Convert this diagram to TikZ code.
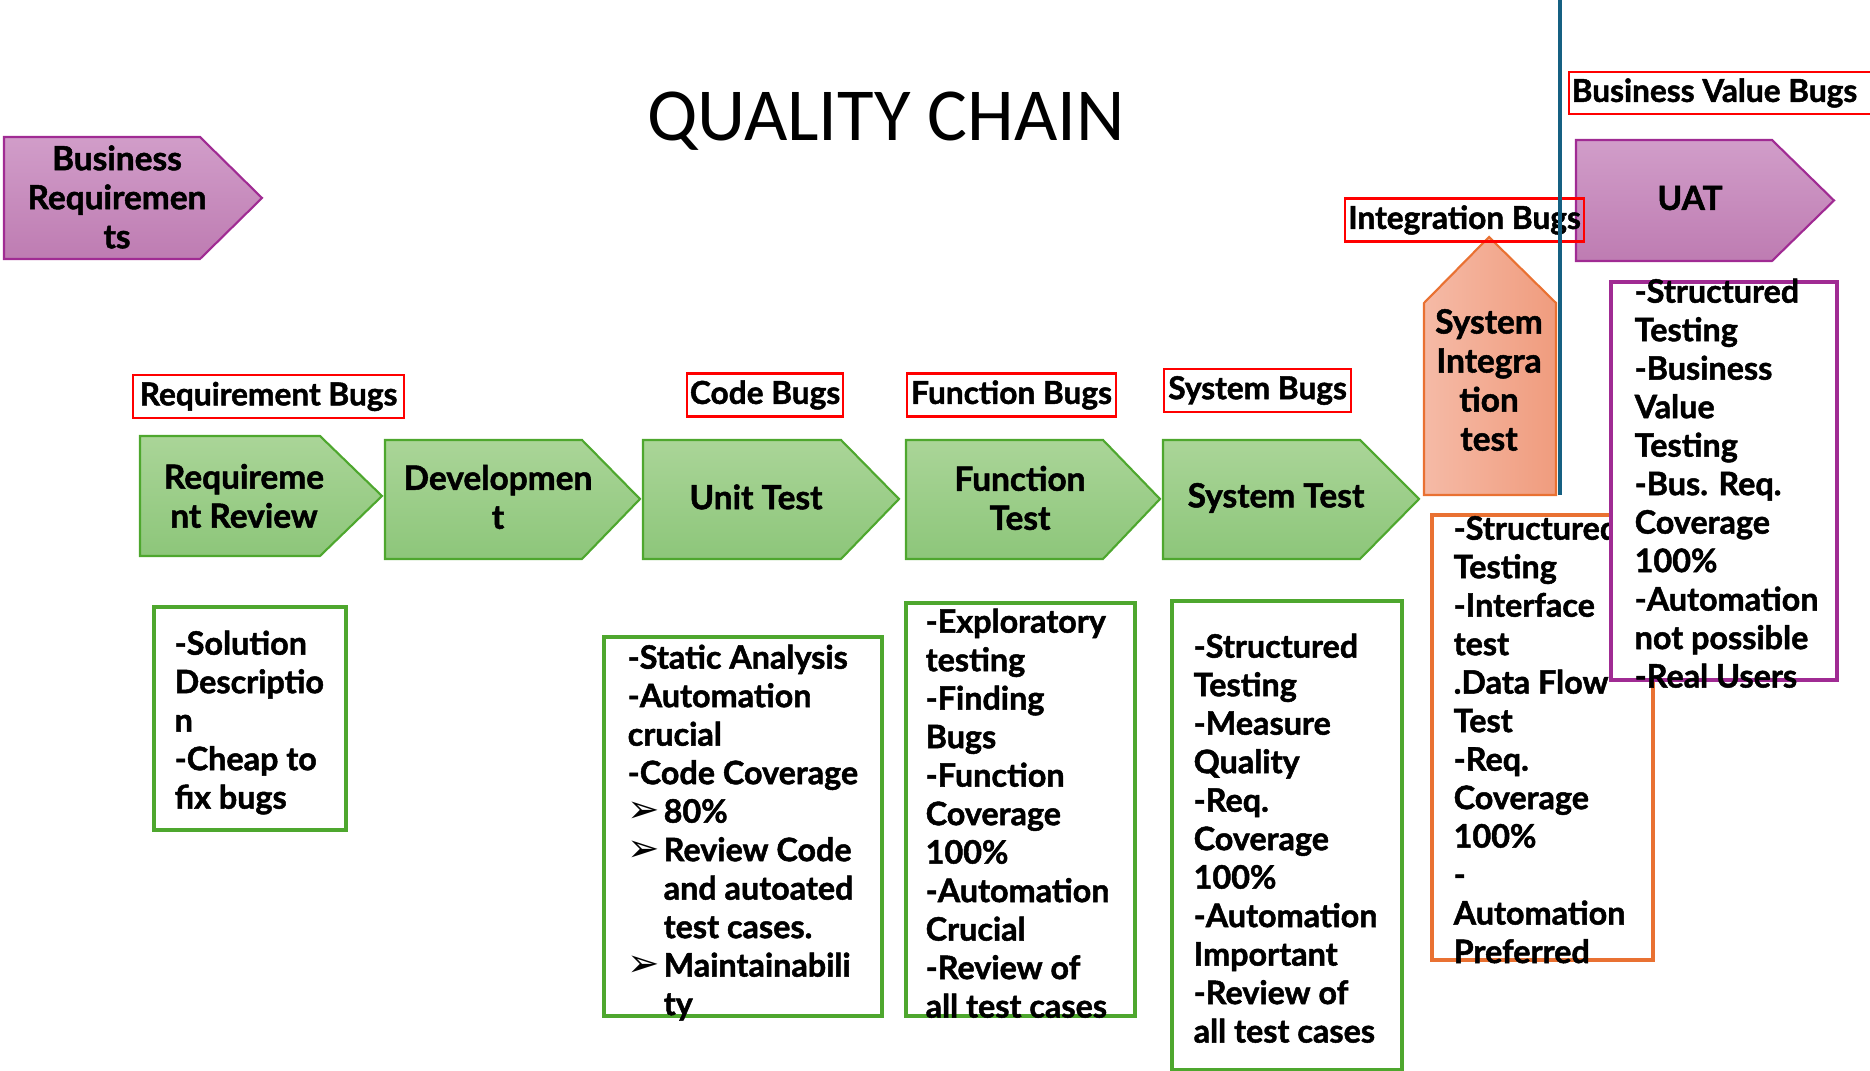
\documentclass[tikz,border=0pt]{standalone}
\usepackage{fontspec}
\setmainfont{Lato}[BoldFeatures={FakeBold=1.5}]
\newfontfamily\titlefont{Carlito}
\newfontfamily\symfont{DejaVu Sans}
\usetikzlibrary{positioning}

\definecolor{greenline}{RGB}{78,167,46}
\definecolor{greentop}{RGB}{170,213,152}
\definecolor{greenbot}{RGB}{141,198,122}
\definecolor{purpleline}{RGB}{160,43,147}
\definecolor{purpletop}{RGB}{209,157,201}
\definecolor{purplebot}{RGB}{190,124,178}
\definecolor{orangeline}{RGB}{233,113,50}
\definecolor{orangeleft}{RGB}{245,186,166}
\definecolor{orangeright}{RGB}{240,156,126}
\definecolor{bugred}{RGB}{255,0,0}
\definecolor{divider}{RGB}{21,96,130}

\newcommand{\arrowbullet}{\makebox[0.36cm][l]{\symfont\fontsize{11}{11}\selectfont ➢}}

\tikzset{
  stage/.style={draw=greenline, line width=0.6pt, top color=greentop, bottom color=greenbot},
  uatstage/.style={draw=purpleline, line width=0.6pt, top color=purpletop, bottom color=purplebot},
  sitstage/.style={draw=orangeline, line width=0.6pt, left color=orangeleft, right color=orangeright},
  stagetext/.style={font=\bfseries\fontsize{9.5}{11.1}\selectfont, align=center, inner sep=0pt},
  notebox/.style={line width=1.1pt},
  notetext/.style={font=\bfseries\fontsize{9.2}{10.95}\selectfont, align=left, anchor=north west, inner sep=0pt},
  bugtext/.style={font=\bfseries\fontsize{9}{10}\selectfont, inner xsep=0.02cm, inner ysep=0pt, minimum height=0.43cm},
  bugbox/.style={bugtext, draw=bugred, line width=0.6pt, anchor=west},
}

\begin{document}
\begin{tikzpicture}
    \useasboundingbox (0,0) rectangle (18.70,10.71);

    % Title
    \node[font=\titlefont\fontsize{21.3}{24}\selectfont, anchor=base] (title) at (8.86,9.30) {QUALITY CHAIN};

    % Business requirements
    \draw[uatstage] (0.04,9.34) -- (2.00,9.34) -- (2.62,8.73) -- (2.00,8.12) -- (0.04,8.12) -- cycle;
    \node[stagetext] (busreq) at (1.17,8.74) {Business\\Requiremen\\ts};

    % Draw the stages
    \draw[stage] (1.40,6.35) -- (3.20,6.35) -- (3.82,5.75) -- (3.20,5.15) -- (1.40,5.15) -- cycle;
    \node[stagetext] (reqreview) at (2.44,5.75) {Requireme\\nt Review};
    \draw[stage] (3.85,6.31) -- (5.82,6.31) -- (6.40,5.72) -- (5.82,5.12) -- (3.85,5.12) -- cycle;
    \node[stagetext] (dev) at (4.98,5.74) {Developmen\\t};
    \draw[stage] (6.43,6.31) -- (8.41,6.31) -- (8.99,5.72) -- (8.41,5.12) -- (6.43,5.12) -- cycle;
    \node[stagetext] (unittest) at (7.56,5.74) {Unit Test};
    \draw[stage] (9.06,6.31) -- (11.03,6.31) -- (11.60,5.72) -- (11.03,5.12) -- (9.06,5.12) -- cycle;
    \node[stagetext] (functest) at (10.20,5.73) {Function\\Test};
    \draw[stage] (11.63,6.31) -- (13.60,6.31) -- (14.19,5.72) -- (13.60,5.12) -- (11.63,5.12) -- cycle;
    \node[stagetext] (systest) at (12.76,5.73) {System Test};

    % Notes under the stages
    \draw[notebox, greenline] (1.54,4.64) rectangle (3.46,2.41);
    \node[notetext] (reqnotes) at (1.74,4.41) {-Solution\\Descriptio\\n\\-Cheap to\\fix bugs};
    \draw[notebox, greenline] (6.04,4.34) rectangle (8.82,0.55);
    \node[notetext] (unitnotes) at (6.27,4.27) {-Static Analysis\\-Automation\\crucial\\-Code Coverage\\
      \arrowbullet 80\%\\\arrowbullet Review Code\\
      \hspace*{0.36cm}and autoated\\\hspace*{0.36cm}test cases.\\
      \arrowbullet Maintainabili\\\hspace*{0.36cm}ty};
    \draw[notebox, greenline] (9.06,4.68) rectangle (11.35,0.55);
    \node[notetext] (funcnotes) at (9.25,4.63) {-Exploratory\\testing\\-Finding\\Bugs\\-Function\\Coverage\\100\%\\-Automation\\Crucial\\-Review of\\all test cases};
    \draw[notebox, greenline] (11.72,4.70) rectangle (14.02,0.01);
    \node[notetext] (sysnotes) at (11.93,4.38) {-Structured\\Testing\\-Measure\\Quality\\-Req.\\Coverage\\100\%\\-Automation\\Important\\-Review of\\all test cases};
    \draw[notebox, orangeline] (14.32,5.56) rectangle (16.53,1.11);
    \node[notetext] (sitnotes) at (14.53,5.56) {-Structured\\Testing\\-Interface\\test\\.Data Flow\\Test\\-Req.\\Coverage\\100\%\\-\\Automation\\Preferred};

    % UAT and system integration
    \draw[uatstage] (15.76,9.31) -- (17.72,9.31) -- (18.34,8.705) -- (17.72,8.10) -- (15.76,8.10) -- cycle;
    \node[stagetext] (uat) at (16.90,8.73) {UAT};
    \draw[sitstage] (14.24,5.76) -- (14.24,7.68) -- (14.89,8.34) -- (15.56,7.68) -- (15.56,5.76) -- cycle;
    \node[stagetext] (sit) at (14.89,6.91) {System\\Integra\\tion\\test};

    % Bug labels
    \node[bugbox, minimum width=2.71cm] (reqbugs) at (1.32,6.745) {Requirement Bugs};
    \node[bugbox, minimum width=1.56cm] (codebugs) at (6.86,6.76) {Code Bugs};
    \node[bugbox, minimum width=2.09cm] (funcbugs) at (9.06,6.76) {Function Bugs};
    \node[bugbox, minimum width=1.87cm] (sysbugs) at (11.63,6.805) {System Bugs};
    \node[bugbox, minimum width=2.39cm] (intbugs) at (13.44,8.51) {Integration Bugs};
    \draw[bugred, line width=0.6pt] (18.70,9.99) -- (15.69,9.99) -- (15.69,9.57) -- (18.70,9.57);
    \node[bugtext, anchor=west] (busvaluebugs) at (15.69,9.78) {Business Value Bugs};

    % Divider
    \draw[divider, line width=0.9pt] (15.60,10.71) -- (15.60,5.76);

    % UAT notes
    \draw[notebox, purpleline, fill=white] (16.11,7.89) rectangle (18.37,3.91);
    \node[notetext] (uatnotes) at (16.34,7.93) {-Structured\\Testing\\-Business\\Value\\Testing\\-Bus. Req.\\Coverage\\100\%\\-Automation\\not possible\\-Real Users};

\end{tikzpicture}
\end{document}
